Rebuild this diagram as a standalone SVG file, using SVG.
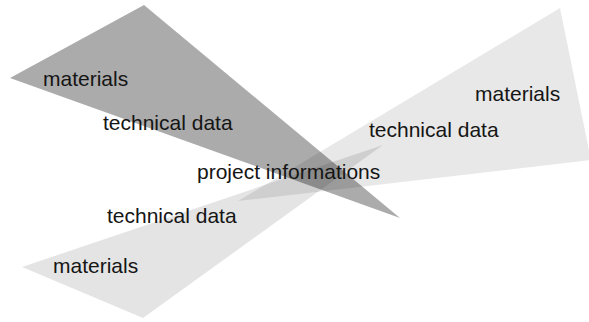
<svg xmlns="http://www.w3.org/2000/svg" width="589" height="322" viewBox="0 0 589 322">
  <style>
    .lbl { font-family: "Liberation Sans", Arial, sans-serif; font-size: 21px; fill: #151515; }
    .dark { fill: #000; fill-opacity: 0.33; }
    .light1 { fill: #000; fill-opacity: 0.105; }
    .light2 { fill: #000; fill-opacity: 0.09; }
  </style>
  <rect width="589" height="322" fill="#fff"/>
  <g id="flow-bottom-left">
    <polygon class="light1" points="22,267 143,318 383,145"/>
  </g>
  <g id="flow-right">
    <polygon class="light2" points="238,201 560,8 591,160"/>
  </g>
  <g id="flow-top-left">
    <polygon class="dark" points="10,78 144,5 400,218"/>
  </g>
  <g id="labels">
    <text class="lbl" x="43" y="86">materials</text>
    <text class="lbl" x="103" y="130">technical data</text>
    <text class="lbl" x="475" y="101">materials</text>
    <text class="lbl" x="369" y="137">technical data</text>
    <text class="lbl" x="197" y="179">project informations</text>
    <text class="lbl" x="107" y="223">technical data</text>
    <text class="lbl" x="53" y="273">materials</text>
  </g>
</svg>
